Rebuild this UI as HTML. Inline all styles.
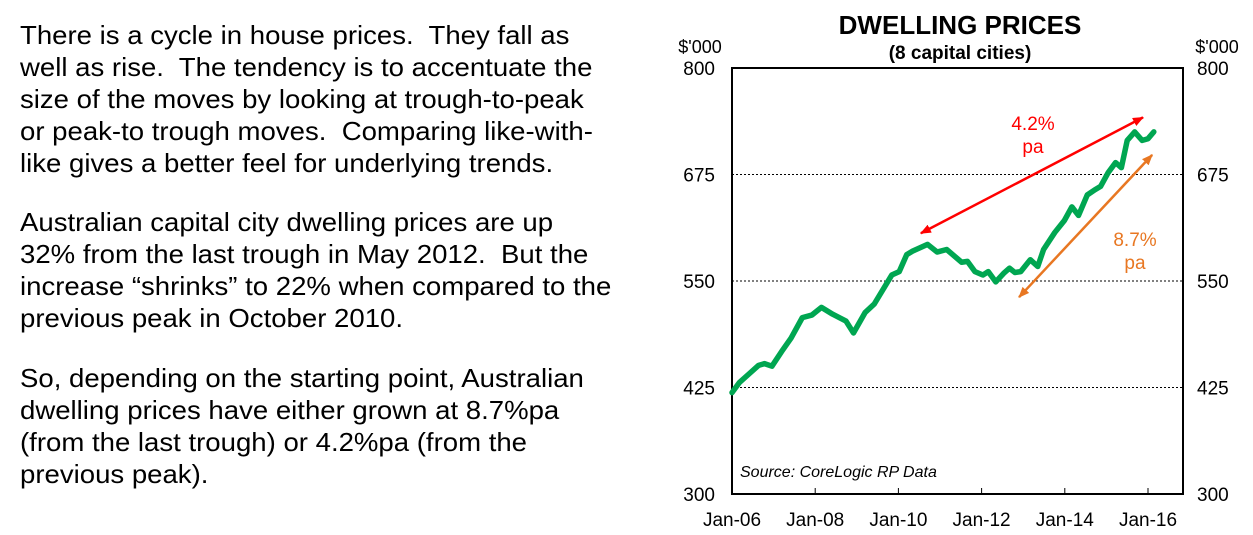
<!DOCTYPE html>
<html><head><meta charset="utf-8"><style>
body{margin:0;width:1253px;height:535px;background:#fff;position:relative;overflow:hidden;font-family:"Liberation Sans",sans-serif}
.t{position:absolute;left:20px;font-size:26px;line-height:32px;white-space:nowrap;color:#000;transform:scaleX(1.06);transform-origin:0 0}
</style></head><body>
<div class="t" style="top:19px">There is a cycle in house prices.&nbsp; They fall as<br>well as rise.&nbsp; The tendency is to accentuate the<br>size of the moves by looking at trough-to-peak<br>or peak-to trough moves.&nbsp; Comparing like-with-<br>like gives a better feel for underlying trends.</div>
<div class="t" style="top:206px">Australian capital city dwelling prices are up<br>32% from the last trough in May 2012.&nbsp; But the<br>increase “shrinks” to 22% when compared to the<br>previous peak in October 2010.</div>
<div class="t" style="top:362px">So, depending on the starting point, Australian<br>dwelling prices have either grown at 8.7%pa<br>(from the last trough) or 4.2%pa (from the<br>previous peak).</div>
<svg id="chart" width="1253" height="535" style="position:absolute;left:0;top:0" font-family="Liberation Sans, sans-serif"></svg>
<script>
const yTicks=[300,425,550,675,800];
const xTickYears=[2006,2008,2010,2012,2014,2016];
const xTickLabels=["Jan-06","Jan-08","Jan-10","Jan-12","Jan-14","Jan-16"];
const dates=[2006.0,2006.18,2006.41,2006.64,2006.78,2006.96,2007.19,2007.42,2007.69,2007.92,2008.15,2008.42,2008.74,2008.92,2009.2,2009.42,2009.84,2010.02,2010.2,2010.34,2010.52,2010.7,2010.93,2011.16,2011.52,2011.66,2011.84,2012.03,2012.16,2012.34,2012.53,2012.67,2012.8,2012.94,2013.17,2013.35,2013.49,2013.76,2013.99,2014.17,2014.33,2014.54,2014.72,2014.86,2015.04,2015.22,2015.36,2015.5,2015.68,2015.86,2016.0,2016.14];
const prices=[419,431,441,451,453,450,467,483,507,510,519,511,503,489,513,523,557,561,581,585,589,593,584,587,572,573,561,557,561,549,559,565,560,561,575,567,587,607,621,637,627,651,657,661,677,689,683,715,725,715,717,725];
const peakArrow=[[2010.54,606],[2015.88,742]];
const troughArrow=[[2012.9,531],[2016.1,698]];
const L=732,R=1183,T=68,B=494;
const X=yr=>L+(yr-2006)*41.6;
const Y=v=>B-(v-300)*(B-T)/500;
const svg=document.getElementById('chart');
const NS='http://www.w3.org/2000/svg';
function mk(tag,attrs,parent){const e=document.createElementNS(NS,tag);for(const k in attrs)e.setAttribute(k,attrs[k]);(parent||svg).appendChild(e);return e;}
const defs=mk('defs',{});
[['ar','#f00'],['ao','#e87722']].forEach(([id,c])=>{const m=mk('marker',{id:id,markerWidth:11,markerHeight:9,refX:10,refY:4.5,orient:'auto-start-reverse',markerUnits:'userSpaceOnUse'},defs);mk('path',{d:'M0,0 L11,4.5 L0,9 Z',fill:c},m);});
let e;
e=mk('text',{x:960,y:34,'text-anchor':'middle','font-size':26,'font-weight':'bold'});e.textContent='DWELLING PRICES';


e=mk('text',{x:960,y:59,'text-anchor':'middle','font-size':19,'font-weight':'bold'});e.textContent='(8 capital cities)';


e=mk('text',{x:700,y:53,'text-anchor':'middle','font-size':18});e.textContent="$'000";


e=mk('text',{x:1217,y:53,'text-anchor':'middle','font-size':18});e.textContent="$'000";


yTicks.forEach(v=>{
 if(v>300&&v<800){e=mk('line',{x1:L,x2:R,y1:Y(v),y2:Y(v),stroke:'#000','stroke-width':1,'stroke-dasharray':'2,2'});
 
 }
 e=mk('text',{x:715,y:Y(v)+7,'text-anchor':'end','font-size':19});e.textContent=v;
 
 
 e=mk('text',{x:1197,y:Y(v)+7,'text-anchor':'start','font-size':19});e.textContent=v;
 
 
});
xTickYears.forEach((yr,i)=>{
 e=mk('line',{x1:X(yr),x2:X(yr),y1:B,y2:B-6,stroke:'#000','stroke-width':1});
 
 
 e=mk('text',{x:X(yr),y:526,'text-anchor':'middle','font-size':19});e.textContent=xTickLabels[i];
 
 
});
e=mk('rect',{x:L,y:T,width:R-L,height:B-T,fill:'none',stroke:'#000','stroke-width':2});


e=mk('polyline',{points:dates.map((d,i)=>X(d)+','+Y(prices[i])).join(' '),fill:'none',stroke:'#00a651','stroke-width':5.5,'stroke-linejoin':'round','stroke-linecap':'round'});


e=mk('line',{x1:X(peakArrow[0][0]),y1:Y(peakArrow[0][1]),x2:X(peakArrow[1][0]),y2:Y(peakArrow[1][1]),stroke:'#f00','stroke-width':2.5,'marker-start':'url(#ar)','marker-end':'url(#ar)'});


e=mk('line',{x1:X(troughArrow[0][0]),y1:Y(troughArrow[0][1]),x2:X(troughArrow[1][0]),y2:Y(troughArrow[1][1]),stroke:'#e87722','stroke-width':2.5,'marker-start':'url(#ao)','marker-end':'url(#ao)'});


e=mk('text',{x:1033,y:130,'text-anchor':'middle','font-size':19,fill:'#f00'});e.textContent='4.2%';


e=mk('text',{x:1033,y:153,'text-anchor':'middle','font-size':19,fill:'#f00'});e.textContent='pa';


e=mk('text',{x:1135,y:246,'text-anchor':'middle','font-size':19,fill:'#e87722'});e.textContent='8.7%';


e=mk('text',{x:1135,y:269,'text-anchor':'middle','font-size':19,fill:'#e87722'});e.textContent='pa';


e=mk('text',{x:740,y:477,'font-size':16,'font-style':'italic'});e.textContent='Source: CoreLogic RP Data';


</script>
</body></html>
